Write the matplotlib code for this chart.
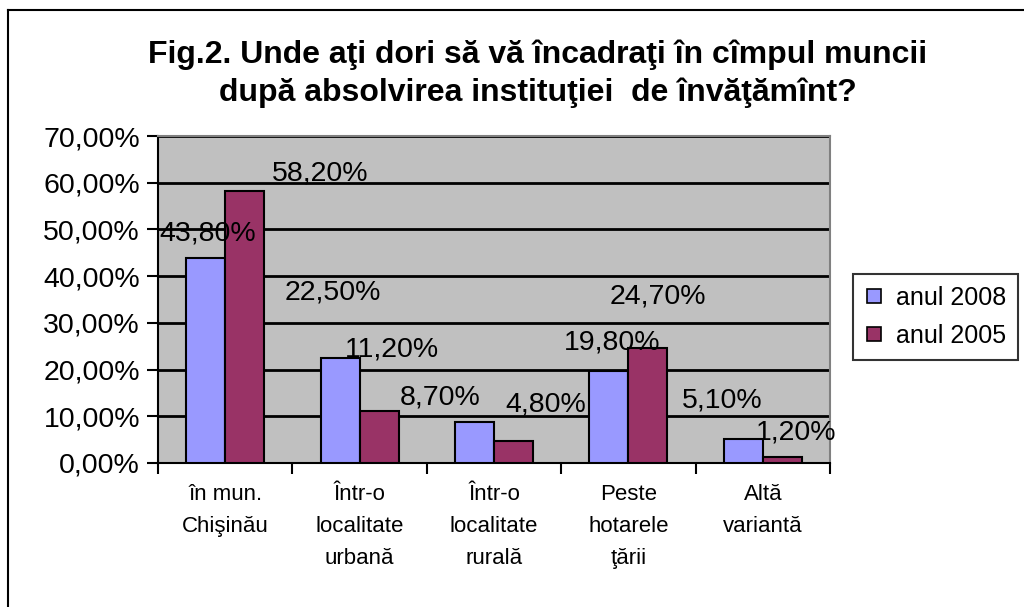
import matplotlib
matplotlib.use("Agg")
from matplotlib import pyplot as plt
from matplotlib.lines import Line2D
from matplotlib.ticker import FuncFormatter
import numpy as np

plt.rcParams['font.family'] = ['Liberation Sans', 'DejaVu Sans']

# chart data
categories = ['în mun.\nChişinău', 'Într-o\nlocalitate\nurbană', 'Într-o\nlocalitate\nrurală',
              'Peste\nhotarele\nţării', 'Altă\nvariantă']
series_names = ['anul 2008', 'anul 2005']
values_2008 = [43.8, 22.5, 8.7, 19.8, 5.1]
values_2005 = [58.2, 11.2, 4.8, 24.7, 1.2]
title = 'Fig.2. Unde aţi dori să vă încadraţi în cîmpul muncii\ndupă absolvirea instituţiei  de învăţămînt?'

# where excel dropped the value labels (pixel offset from bar top)
offs_2008 = [(2, 25), (-7, 65), (-34, 25), (3, 28), (-21, 39)]
offs_2005 = [(75, 18), (13, 61), (32, 36), (10, 51), (14, 25)]

colors = ['#9999FF', '#993366']

fig = plt.figure(figsize=(10.24, 6.07), dpi=100)
ax = fig.add_axes([158/1024, 1-463/607, (830-158)/1024, (463-136)/607])
ax.set_facecolor('#C0C0C0')

x = np.arange(len(categories))
w = 0.29
b1 = ax.bar(x - w/2, np.array(values_2008)/100, w, color=colors[0], edgecolor='black', lw=1.5, zorder=3)
b2 = ax.bar(x + w/2, np.array(values_2005)/100, w, color=colors[1], edgecolor='black', lw=1.5, zorder=3)

fmt = lambda v: ('%.2f%%' % v).replace('.', ',')
for bars, vals, offs in [(b1, values_2008, offs_2008), (b2, values_2005, offs_2005)]:
    for rect, v, (dx, dy) in zip(bars, vals, offs):
        ax.annotate(fmt(v), (rect.get_x() + rect.get_width()/2, rect.get_height()),
                    xytext=(dx, dy), textcoords='offset pixels',
                    ha='center', va='center', fontsize=20.5, zorder=5)

ax.set_xlim(-0.5, len(categories) - 0.5)
ax.set_ylim(0, 0.7)
ax.set_yticks(np.arange(0, 0.71, 0.1))
ax.yaxis.set_major_formatter(FuncFormatter(lambda v, p: fmt(v*100)))
ax.yaxis.grid(True, color='black', lw=2, zorder=1)
ax.set_xticks(x)
ax.set_xticklabels(categories, fontsize=16, linespacing=1.7, va='top')
ax.set_xticks(np.arange(-0.5, len(categories)), minor=True)
ax.tick_params(axis='x', which='major', length=0, pad=15)
ax.tick_params(axis='x', which='minor', length=8, width=1.5, direction='out')
ax.tick_params(axis='y', length=8, width=1.5, direction='out', labelsize=20.5, pad=5)

for side in ['top', 'right']:
    ax.spines[side].set_color('#808080')
    ax.spines[side].set_linewidth(1.5)
for side in ['left', 'bottom']:
    ax.spines[side].set_color('black')
    ax.spines[side].set_linewidth(1.5)

fig.text(538/1024, 1-74/607, title, ha='center', va='center', fontsize=23,
         fontweight='bold', linespacing=1.3)

handles = [Line2D([], [], marker='s', ls='', markersize=10, markerfacecolor=c,
                  markeredgecolor='black', markeredgewidth=1.2) for c in colors]
leg = fig.legend(handles, series_names, loc='center left',
                 bbox_to_anchor=(853/1024, 1-317/607), fontsize=18, frameon=True,
                 fancybox=False, edgecolor='black', handlelength=0.7, handletextpad=0.5,
                 borderpad=0.5, labelspacing=0.55, borderaxespad=0)
leg.get_frame().set_linewidth(1.5)

# outer chart border (left and top only visible)
fig.add_artist(Line2D([8/1024, 8/1024], [0, 1-10/607], transform=fig.transFigure, color='black', lw=1.5))
fig.add_artist(Line2D([8/1024, 1], [1-10/607, 1-10/607], transform=fig.transFigure, color='black', lw=1.5))

fig.savefig('out.png', dpi=100)
